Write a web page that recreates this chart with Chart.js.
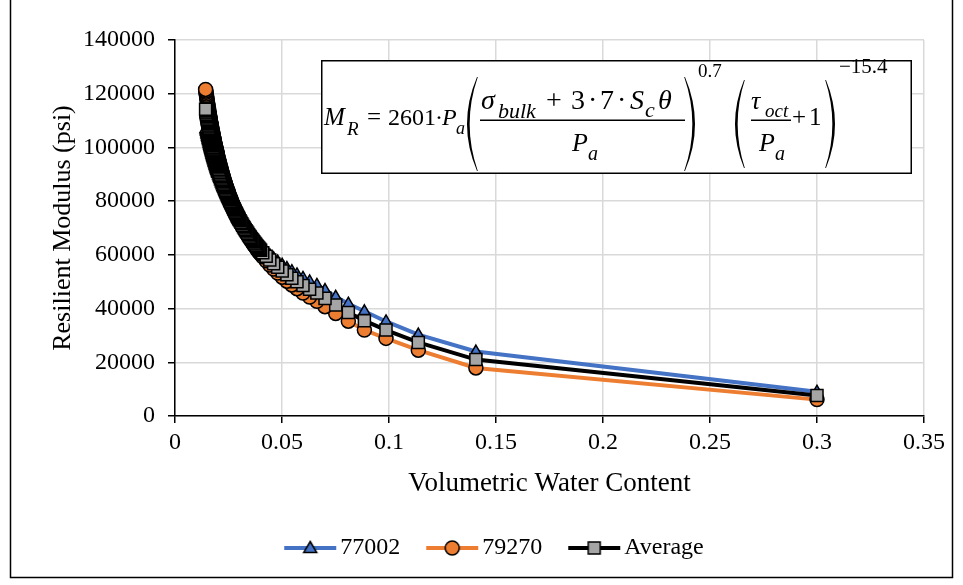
<!DOCTYPE html>
<html>
<head>
<meta charset="utf-8">
<script src="https://cdn.jsdelivr.net/npm/chart.js@4.4.0/dist/chart.umd.min.js"></script>
<style>
  html, body { margin: 0; padding: 0; background: #fff; }
  #wrap { position: relative; width: 963px; height: 585px; }
</style>
</head>
<body>
<div id="wrap"><canvas id="mrChart" width="963" height="585"></canvas></div>
<script>
// volumetric water content (x) and resilient modulus in psi for each soil
const vwc = [
  0.0143, 0.0144, 0.0145, 0.0146, 0.0147, 0.0148, 0.0149, 0.0150, 0.0151, 0.0152,
  0.0153, 0.0154, 0.0155, 0.0156, 0.0157, 0.0158, 0.0159, 0.0160, 0.0161, 0.0162,
  0.0163, 0.0164, 0.0165, 0.0166, 0.0167, 0.0168, 0.0169, 0.0170, 0.0171, 0.0172,
  0.0173, 0.0174, 0.0175, 0.0176, 0.0177, 0.0178, 0.0179, 0.0180, 0.0181, 0.0182,
  0.0183, 0.0184, 0.0185, 0.0186, 0.0187, 0.0188, 0.0189, 0.0190, 0.0191, 0.0192,
  0.0193, 0.0194, 0.0195, 0.0196, 0.0197, 0.0198, 0.0199, 0.0200,
  0.0202, 0.0204, 0.0206, 0.0208, 0.0210, 0.0212, 0.0214, 0.0216, 0.0218, 0.0220,
  0.0222, 0.0224, 0.0226, 0.0228, 0.0230, 0.0232, 0.0234, 0.0236, 0.0238, 0.0240,
  0.0242, 0.0244, 0.0246, 0.0248, 0.0250, 0.0252, 0.0254, 0.0256, 0.0258, 0.0260,
  0.0262, 0.0264, 0.0266, 0.0268, 0.0270, 0.0272, 0.0274, 0.0276, 0.0278, 0.0280,
  0.0282, 0.0284, 0.0286, 0.0288, 0.0290, 0.0292, 0.0294, 0.0296, 0.0298, 0.0300,
  0.0304, 0.0308, 0.0312, 0.0316, 0.0320, 0.0324, 0.0328, 0.0332, 0.0336, 0.0340,
  0.0344, 0.0348, 0.0352, 0.0356, 0.0360, 0.0364, 0.0368, 0.0372, 0.0376, 0.0380,
  0.0384, 0.0388, 0.0392, 0.0396, 0.0400,
  0.0410, 0.0426, 0.0443, 0.0461, 0.0480, 0.0501, 0.0523, 0.0546, 0.0570, 0.0598,
  0.0629, 0.0663, 0.0701, 0.0751, 0.0810, 0.0885, 0.0986, 0.1137, 0.1406, 0.3000
];
const mr77002 = [
  106800, 106400, 106000, 105700, 105300, 104900, 104600, 104200, 103900, 103500,
  103200, 102800, 102500, 102200, 101800, 101500, 101200, 100800, 100500, 100200,
  99900, 99600, 99300, 99000, 98700, 98400, 98100, 97800, 97500, 97200,
  96900, 96600, 96300, 96100, 95800, 95500, 95200, 95000, 94700, 94400,
  94200, 93900, 93600, 93400, 93100, 92900, 92600, 92400, 92100, 91900,
  91600, 91400, 91200, 90900, 90700, 90400, 90200, 90000,
  89500, 89100, 88600, 88200, 87800, 87300, 86900, 86500, 86100, 85700,
  85300, 84900, 84500, 84200, 83800, 83400, 83000, 82700, 82300, 82000,
  81600, 81300, 80900, 80600, 80300, 80000, 79600, 79300, 79000, 78700,
  78400, 78100, 77800, 77500, 77200, 76900, 76600, 76300, 76000, 75800,
  75500, 75200, 74900, 74700, 74400, 74200, 73900, 73600, 73400, 73100,
  72600, 72200, 71700, 71200, 70800, 70300, 69900, 69500, 69000, 68600,
  68200, 67800, 67400, 67000, 66600, 66300, 65900, 65500, 65200, 64800,
  64500, 64100, 63800, 63500, 63100,
  62400, 61100, 59900, 58700, 57500, 56300, 55100, 53900, 52700, 51400,
  50100, 48800, 46900, 44400, 41800, 39000, 35200, 30300, 24000, 9000
];
const mr79270 = [
  121600, 121000, 120500, 119900, 119300, 118800, 118200, 117700, 117200, 116600,
  116100, 115600, 115100, 114600, 114100, 113600, 113100, 112600, 112200, 111700,
  111200, 110800, 110300, 109800, 109400, 109000, 108500, 108100, 107600, 107200,
  106800, 106400, 106000, 105500, 105100, 104700, 104300, 103900, 103500, 103200,
  102800, 102400, 102000, 101600, 101300, 100900, 100500, 100200, 99800, 99500,
  99100, 98800, 98400, 98100, 97700, 97400, 97100, 96700,
  96100, 95400, 94800, 94200, 93600, 93000, 92400, 91800, 91200, 90600,
  90100, 89500, 89000, 88500, 87900, 87400, 86900, 86400, 85900, 85400,
  84900, 84500, 84000, 83500, 83100, 82600, 82200, 81700, 81300, 80900,
  80500, 80000, 79600, 79200, 78800, 78400, 78000, 77700, 77300, 76900,
  76500, 76200, 75800, 75400, 75100, 74700, 74400, 74000, 73700, 73400,
  72700, 72100, 71400, 70800, 70200, 69600, 69000, 68500, 67900, 67400,
  66800, 66300, 65800, 65300, 64800, 64300, 63800, 63400, 62900, 62400,
  62000, 61500, 61100, 60700, 60300,
  59300, 57800, 56200, 54700, 53200, 51700, 50200, 48800, 47400, 45800,
  44300, 42700, 40700, 38200, 35300, 32000, 28900, 24500, 17900, 6100
];
const mrAverage = [
  114200, 113700, 113200, 112800, 112300, 111900, 111400, 111000, 110500, 110100,
  109600, 109200, 108800, 108400, 108000, 107600, 107100, 106700, 106300, 105900,
  105600, 105200, 104800, 104400, 104000, 103700, 103300, 102900, 102600, 102200,
  101800, 101500, 101100, 100800, 100500, 100100, 99800, 99400, 99100, 98800,
  98500, 98100, 97800, 97500, 97200, 96900, 96600, 96300, 96000, 95700,
  95400, 95100, 94800, 94500, 94200, 93900, 93600, 93400,
  92800, 92300, 91700, 91200, 90700, 90100, 89600, 89100, 88600, 88200,
  87700, 87200, 86800, 86300, 85900, 85400, 85000, 84500, 84100, 83700,
  83300, 82900, 82500, 82100, 81700, 81300, 80900, 80500, 80100, 79800,
  79400, 79100, 78700, 78400, 78000, 77700, 77300, 77000, 76700, 76300,
  76000, 75700, 75400, 75100, 74700, 74400, 74100, 73800, 73500, 73200,
  72700, 72100, 71600, 71000, 70500, 70000, 69400, 69000, 68500, 68000,
  67500, 67000, 66600, 66100, 65700, 65300, 64900, 64400, 64000, 63600,
  63200, 62800, 62500, 62100, 61700,
  60800, 59500, 58100, 56700, 55400, 54000, 52600, 51300, 50000, 48600,
  47200, 45800, 43800, 41300, 38500, 35500, 32000, 27400, 21000, 7600
];

const xTicks = [0, 0.05, 0.1, 0.15, 0.2, 0.25, 0.3, 0.35];
const yTicks = [0, 20000, 40000, 60000, 80000, 100000, 120000, 140000];
const seriesNames = ['77002', '79270', 'Average'];

const SERIF = "'Liberation Serif', 'Times New Roman', serif";
const BLUE = '#4472c4', ORANGE = '#ed7d31', GREY = '#a5a5a5';

// points go from the wet end to the dry end so the dry-end markers land on top
function pts(ys) {
  return vwc.map((x, i) => ({ x: x, y: ys[i] })).reverse();
}

// small line+marker swatch used as the legend symbol
function legendIcon(lineColor, fill, style) {
  const c = document.createElement('canvas');
  c.width = 56; c.height = 18;
  const g = c.getContext('2d');
  g.strokeStyle = lineColor; g.lineWidth = 4;
  g.beginPath(); g.moveTo(2, 9); g.lineTo(54, 9); g.stroke();
  g.fillStyle = fill; g.strokeStyle = '#000'; g.lineWidth = 1.5;
  g.beginPath();
  if (style === 'triangle') {
    g.moveTo(28, 2.5); g.lineTo(34.5, 13.5); g.lineTo(21.5, 13.5); g.closePath();
  } else if (style === 'circle') {
    g.arc(28, 9, 7, 0, Math.PI * 2);
  } else {
    g.rect(22, 3, 12, 12);
  }
  g.fill(); g.stroke();
  return c;
}
const legendIcons = [
  legendIcon(BLUE, BLUE, 'triangle'),
  legendIcon(ORANGE, ORANGE, 'circle'),
  legendIcon('#000', GREY, 'rect')
];

// curved bracket, filled so the middle is heavier than the ends
function paren(ctx, xOuter, top, bottom, w, left) {
  const mid = (top + bottom) / 2;
  const s = left ? 1 : -1;
  ctx.beginPath();
  ctx.moveTo(xOuter + s * w, top);
  ctx.quadraticCurveTo(xOuter - s * w, mid, xOuter + s * w, bottom);
  ctx.lineTo(xOuter + s * (w + 0.8), bottom);
  ctx.quadraticCurveTo(xOuter - s * (w - 4.5), mid, xOuter + s * (w + 0.8), top);
  ctx.closePath();
  ctx.fill();
}

const equationBox = {
  id: 'equationBox',
  afterDraw(chart) {
    const ctx = chart.ctx;
    ctx.save();
    ctx.fillStyle = '#fff';
    ctx.fillRect(322, 61, 589, 112);
    ctx.strokeStyle = '#000'; ctx.lineWidth = 1.5;
    ctx.strokeRect(321.75, 60.75, 589.5, 112.5);

    ctx.fillStyle = '#000';
    ctx.textBaseline = 'alphabetic';
    const t = (s, x, y, size, it) => {
      ctx.font = (it ? 'italic ' : '') + size + 'px ' + SERIF;
      ctx.fillText(s, x, y);
    };
    // left-hand side and the constant
    t('M', 324, 125, 25, true);
    t('R', 347, 135, 19, true);
    t('=', 367, 125, 25);
    t('2601', 388, 125, 24);
    t('\u00b7', 435, 125, 24);
    t('P', 442, 125, 24, true);
    t('a', 456, 134, 18, true);

    // first bracket: bulk stress + suction term over Pa
    paren(ctx, 467, 77, 171, 10, true);
    t('\u03c3', 481, 109, 28, true);
    t('bulk', 498, 118, 22, true);
    t('+', 546, 109, 28);
    t('3', 571, 109, 28);
    t('\u00b7', 588, 109, 28);
    t('7', 600, 109, 28);
    t('\u00b7', 617, 109, 28);
    t('S', 630, 109, 28, true);
    t('c', 645, 117, 22, true);
    t('\u03b8', 658, 109, 28, true);
    ctx.fillRect(480, 119.5, 205, 1.5);
    t('P', 572, 151, 26, true);
    t('a', 588, 160, 20, true);
    paren(ctx, 695, 77, 171, 10, false);
    t('0.7', 698, 77, 19);

    // second bracket: octahedral shear over Pa plus one
    paren(ctx, 735, 80, 168, 9, true);
    t('\u03c4', 751, 109, 26, true);
    t('oct', 765, 117, 19, true);
    ctx.fillRect(751, 119.5, 40, 1.5);
    t('P', 759, 151, 26, true);
    t('a', 775, 160, 20, true);
    t('+', 792, 125, 25);
    t('1', 809, 125, 25);
    paren(ctx, 835, 80, 168, 9, false);
    t('\u221215.4', 839, 73, 21);

    // outer frame of the figure
    ctx.lineWidth = 1.5;
    ctx.beginPath();
    ctx.moveTo(10.5, 0); ctx.lineTo(10.5, 577.5); ctx.lineTo(952.5, 577.5); ctx.lineTo(952.5, 0);
    ctx.stroke();
    ctx.restore();
  }
};

const ctx = document.getElementById('mrChart').getContext('2d');
const mrChart = new Chart(ctx, {
  type: 'line',
  data: {
    datasets: [
      {
        label: seriesNames[0], data: pts(mr77002), order: 3,
        borderColor: BLUE, borderWidth: 4, backgroundColor: BLUE,
        pointStyle: 'triangle', pointRadius: 6.5, pointBorderColor: '#000', pointBorderWidth: 1.5,
        pointBackgroundColor: BLUE, tension: 0
      },
      {
        label: seriesNames[1], data: pts(mr79270), order: 2,
        borderColor: ORANGE, borderWidth: 4, backgroundColor: ORANGE,
        pointStyle: 'circle', pointRadius: 7, pointBorderColor: '#000', pointBorderWidth: 1.5,
        pointBackgroundColor: ORANGE, tension: 0
      },
      {
        label: seriesNames[2], data: pts(mrAverage), order: 1,
        borderColor: '#000', borderWidth: 4, backgroundColor: GREY,
        pointStyle: 'rect', pointRadius: 8.5, pointBorderColor: '#000', pointBorderWidth: 1.5,
        pointBackgroundColor: GREY, tension: 0
      }
    ]
  },
  options: {
    responsive: false,
    devicePixelRatio: 1,
    animation: false,
    layout: { padding: { top: 40, left: 72, right: 39, bottom: 15 } },
    plugins: {
      tooltip: { enabled: false },
      legend: {
        position: 'bottom',
        labels: {
          usePointStyle: true,
          pointStyleWidth: 36,
          padding: 34,
          color: '#000',
          font: { family: SERIF, size: 24 },
          generateLabels: chart => chart.data.datasets.map((ds, i) => ({
            text: ds.label,
            pointStyle: legendIcons[i],
            fillStyle: ds.backgroundColor,
            strokeStyle: ds.borderColor,
            lineWidth: 0,
            hidden: false,
            datasetIndex: i,
            fontColor: '#000'
          }))
        }
      }
    },
    scales: {
      x: {
        type: 'linear',
        min: 0, max: 0.35,
        afterBuildTicks: s => { s.ticks = xTicks.map(v => ({ value: v })); },
        afterFit: s => { s.height = 86; },
        ticks: {
          color: '#000', padding: 5,
          font: { family: SERIF, size: 24 },
          callback: v => String(+v.toFixed(2))
        },
        grid: { color: '#d9d9d9', lineWidth: 1.5, tickColor: '#000', tickLength: 7 },
        border: { color: '#000', width: 1.5 },
        title: {
          display: true, text: 'Volumetric Water Content', color: '#000',
          font: { family: SERIF, size: 27 }, padding: { top: 4, bottom: 2 }
        }
      },
      y: {
        min: 0, max: 140000,
        afterBuildTicks: s => { s.ticks = yTicks.map(v => ({ value: v })); },
        afterFit: s => { s.width = 103; },
        ticks: {
          color: '#000', padding: 13,
          font: { family: SERIF, size: 24 },
          callback: v => String(v)
        },
        grid: { color: '#d9d9d9', lineWidth: 1.5, tickColor: '#000', tickLength: 7 },
        border: { color: '#000', width: 1.5 },
        title: {
          // the title sits left of the padded layout edge, hence the negative offset
          display: true, text: 'Resilient Modulus (psi)', color: '#000',
          font: { family: SERIF, size: 26 }, padding: { top: -24.6, bottom: 0 }
        }
      }
    }
  },
  plugins: [equationBox]
});
</script>
</body>
</html>
